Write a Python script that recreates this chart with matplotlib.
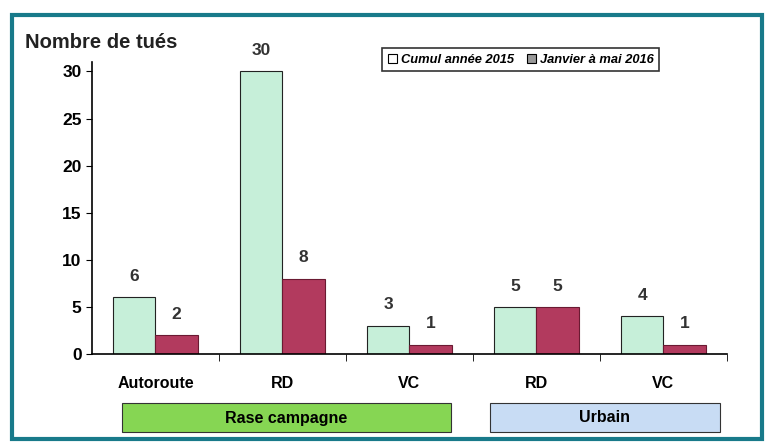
import matplotlib.pyplot as plt
from matplotlib.patches import Rectangle, Patch

# data
categories = ["Autoroute", "RD", "VC", "RD", "VC"]
cumul_2015 = [6, 30, 3, 5, 4]
jan_mai_2016 = [2, 8, 1, 5, 1]
y_ticks = [0, 5, 10, 15, 20, 25, 30]
zones = ["Rase campagne", "Urbain"]

light = "#c6efd9"
dark = "#b23a5e"
font = ["Liberation Sans", "DejaVu Sans"]
plt.rcParams["font.family"] = font

fig = plt.figure(figsize=(7.66, 4.45), dpi=100)
ax = fig.add_axes([0.120, 0.2045, 0.829, 0.656])

x = list(range(len(categories)))
w = 0.335
b1 = ax.bar([i - w / 2 for i in x], cumul_2015, width=w, color=light,
            edgecolor="#222222", linewidth=0.8)
b2 = ax.bar([i + w / 2 for i in x], jan_mai_2016, width=w, color=dark,
            edgecolor="#6a1a32", linewidth=0.8)

# value labels above bars
for bars, vals in ((b1, cumul_2015), (b2, jan_mai_2016)):
    for r, v in zip(bars, vals):
        ax.annotate(str(v), (r.get_x() + r.get_width() / 2, v),
                    xytext=(0, 15), textcoords="offset points",
                    ha="center", va="center", fontsize=12.5,
                    fontweight="bold", color="#333333")

ax.set_xlim(-0.5, len(categories) - 0.5)
ax.set_ylim(0, 31)
ax.set_yticks(y_ticks)
ax.set_yticklabels([str(t) for t in y_ticks], fontsize=12.5, fontweight="bold")
ax.set_xticks(x)
ax.set_xticklabels(categories, fontsize=11.5, fontweight="bold")
ax.set_xticks([i + 0.5 for i in x], minor=True)
ax.tick_params(axis="x", which="major", length=0, pad=16)
ax.tick_params(axis="x", which="minor", length=5, direction="out")
ax.tick_params(axis="y", length=4, direction="out")
for s in ("top", "right"):
    ax.spines[s].set_visible(False)
for s in ("left", "bottom"):
    ax.spines[s].set_linewidth(1.2)

fig.text(0.033, 0.905, "Nombre de tués", fontsize=14.5, fontweight="bold",
         ha="left", va="center", color="#222222")

# legend
handles = [Patch(facecolor="white", edgecolor="black", linewidth=0.8),
           Patch(facecolor="#999999", edgecolor="black", linewidth=0.8)]
leg = fig.legend(handles, ["Cumul année 2015", "Janvier à mai 2016"],
                 loc="center", bbox_to_anchor=(0.680, 0.866), ncol=2,
                 frameon=True, fancybox=False, edgecolor="black",
                 handlelength=0.7, handleheight=0.7, handletextpad=0.3,
                 columnspacing=1.0, borderpad=0.45,
                 prop={"size": 9.3, "weight": "bold", "style": "italic"})
leg.get_frame().set_linewidth(1.2)

# zone boxes under the categories
boxes = [(122, 451, "#86d653"), (490, 720, "#c8dcf4")]
for (x0, x1, c), name in zip(boxes, zones):
    fig.patches.append(Rectangle((x0 / 766, 1 - 432 / 445), (x1 - x0) / 766,
                                 29 / 445, transform=fig.transFigure,
                                 facecolor=c, edgecolor="#333333",
                                 linewidth=0.8))
    fig.text((x0 + x1) / 2 / 766, 1 - 418 / 445, name, ha="center",
             va="center", fontsize=11.5, fontweight="bold")

# teal frame around the chart
fig.patches.append(Rectangle((12 / 766, 1 - 439 / 445), 750 / 766, 424 / 445,
                             transform=fig.transFigure, fill=False,
                             edgecolor="#187a8a", linewidth=3))

fig.savefig("out.png", dpi=100)
